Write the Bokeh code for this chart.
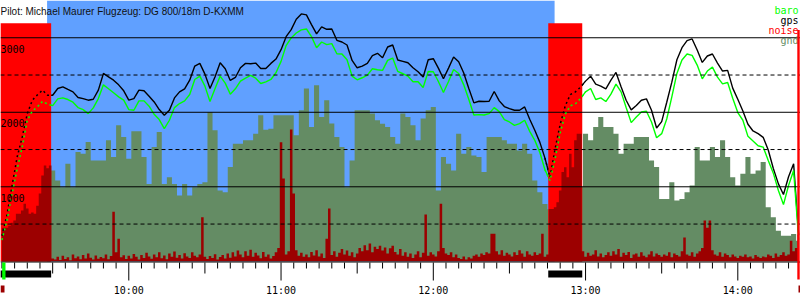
from bokeh.plotting import figure
from bokeh.models import Range1d
from bokeh.core.properties import value
from bokeh.embed import file_html
from bokeh.resources import INLINE

title_text = "Pilot: Michael Maurer Flugzeug: DG 800/18m D-KXMM"

# fix samples every 2 minutes starting 9:10 (minutes since midnight)
t_first = 550
gps = [343, 626, 1017, 1399, 1668, 1982, 2162, 2234, 2297, 2229,
       2229, 2319, 2342, 2306, 2274, 2198, 2184, 2162, 2175, 2297,
       2521, 2476, 2431, 2368, 2288, 2162, 2184, 2297, 2288, 2216,
       2139, 2036, 1960, 2027, 2193, 2274, 2315, 2431, 2620, 2656,
       2512, 2319, 2476, 2665, 2584, 2427, 2467, 2597, 2656, 2651,
       2660, 2588, 2588, 2656, 2714, 2840, 3015, 3109, 3249, 3320,
       3307, 3177, 3051, 3145, 3114, 3118, 2966, 2943, 2903, 2696,
       2597, 2620, 2656, 2759, 2791, 2732, 2876, 2903, 2701, 2683,
       2665, 2597, 2544, 2472, 2705, 2719, 2593, 2449, 2593, 2741,
       2678, 2526, 2319, 2126, 2148, 2144, 2148, 2279, 2153, 2077,
       2050, 2027, 2027, 2072, 1906, 1758, 1596, 1385, 1129, 1511,
       1839, 2086, 2238, 2274, 2337, 2418, 2485, 2377, 2351, 2315,
       2431, 2535, 2342, 2162, 2032, 2090, 2162, 2180, 2027, 1789,
       1875, 2135, 2404, 2705, 2867, 2961, 2984, 2835, 2669, 2755,
       2782, 2660, 2553, 2562, 2324, 2175, 2018, 1839, 1749, 1713,
       1664, 1493, 1246, 1039, 896, 1134, 1309, 350]

baro = [285, 546, 905, 1241, 1533, 1893, 2018, 2072, 2148, 2108,
        2090, 2180, 2193, 2171, 2135, 2063, 2036, 1982, 2059, 2184,
        2368, 2315, 2261, 2207, 2162, 2036, 2027, 2153, 2153, 2081,
        1973, 1902, 1780, 1893, 2063, 2117, 2153, 2238, 2440, 2485,
        2351, 2144, 2319, 2485, 2391, 2243, 2315, 2418, 2458, 2494,
        2458, 2386, 2409, 2440, 2530, 2683, 2894, 2997, 3064, 3105,
        3118, 3015, 2867, 2943, 2907, 2921, 2786, 2782, 2705, 2485,
        2436, 2463, 2499, 2584, 2571, 2562, 2696, 2728, 2548, 2517,
        2485, 2409, 2409, 2333, 2548, 2544, 2413, 2265, 2413, 2575,
        2521, 2368, 2171, 1964, 1969, 1964, 1982, 2063, 2009, 1902,
        1870, 1825, 1848, 1893, 1744, 1623, 1461, 1228, 1084, 1376,
        1722, 1973, 2086, 2113, 2184, 2274, 2319, 2171, 2193, 2144,
        2243, 2377, 2274, 2063, 1861, 1937, 2005, 2014, 1870, 1659,
        1713, 1910, 2207, 2521, 2701, 2782, 2764, 2633, 2449, 2553,
        2606, 2472, 2382, 2400, 2189, 1996, 1893, 1677, 1614, 1551,
        1533, 1354, 1183, 950, 761, 1017, 1219, 290]

gnd = [290, 300, 420, 560, 700, 820, 900, 980, 1050, 1150,
       1219, 1084, 995, 1309, 995, 1466, 1444, 1601, 1354, 1354,
       1354, 1623, 1399, 1825, 1668, 1376, 1744, 1744, 1399, 1039,
       1533, 1735, 1039, 1129, 1039, 882, 1039, 882, 995, 1039,
       1062, 2005, 1758, 950, 927, 1264, 1578, 1578, 1623, 1623,
       1713, 1960, 1767, 1780, 1960, 1960, 1960, 1960, 1690, 2027,
       2319, 1803, 2364, 1937, 2162, 1848, 1668, 1533, 995, 1354,
       2027, 2027, 2027, 1982, 1893, 1845, 1803, 1668, 1578, 1982,
       1937, 1825, 1623, 1915, 2027, 2072, 950, 1399, 1309, 1219,
       1713, 1444, 1533, 1421, 1399, 1197, 1668, 1668, 1668, 1623,
       1578, 1578, 1488, 1578, 1444, 1084, 927, 770, 700, 650,
       700, 750, 800, 900, 1000, 1713, 1623, 1803, 1937, 1803,
       1803, 1713, 1444, 1578, 1578, 1668, 1668, 1668, 1354, 1264,
       837, 837, 1062, 815, 837, 927, 1017, 1533, 1354, 1354,
       1533, 1399, 1623, 1399, 1129, 1017, 1174, 1399, 1174, 1219,
       1331, 725, 590, 411, 343, 343, 366, 276]

times = [t_first + 2 * i for i in range(len(gps))]

# engine noise level, one value per minute from 9:10
noise = ([150, 150, 150, 159, 173, 182, 213, 213, 227, 258,
          236, 213, 218, 213, 249, 303, 384, 429, 416, 429]
         + [12, 8, 20, 6, 25, 10, 18, 5, 30, 14]
         + [22, 9, 28, 12, 35, 16, 8, 26, 11, 19]
         + [14, 30, 9, 24, 222, 40, 101, 18, 27, 10]
         + [25, 12, 33, 20, 8, 28, 15, 38, 22, 11]
         + [30, 18, 40, 14, 26, 9, 35, 20, 44, 16]
         + [28, 12, 36, 22, 15, 40, 25, 18, 30, 197]
         + [20, 10, 24, 15, 32, 8, 19, 28, 12, 35]
         + [16, 40, 22, 48, 30, 18, 45, 25, 52, 20]
         + [38, 26, 14, 42, 20, 30, 12, 24, 40, 60]
         + [533, 370, 30, 45, 590, 303, 50, 25, 38, 20]
         + [30, 18, 42, 26, 50, 22, 35, 15, 101, 236]
         + [28, 45, 20, 38, 55, 30, 48, 25, 40, 18]
         + [35, 60, 45, 72, 50, 80, 40, 65, 55, 70]
         + [48, 62, 35, 58, 70, 42, 30, 55, 25, 40]
         + [20, 35, 15, 30, 45, 18, 38, 209, 25, 40]
         + [30, 22, 45, 258, 60, 35, 28, 40, 18, 30]
         + [15, 10, 22, 8, 18, 12, 25, 30, 20, 35]
         + [28, 40, 35, 123, 123, 45, 30, 50, 25, 38]
         + [30, 22, 40, 28, 50, 35, 20, 45, 30, 25]
         + [40, 28, 35, 123, 20, 30]
         + [234, 234, 242, 264, 317, 399, 421, 376, 481, 421, 541, 571, 571]
         + [45, 20, 38, 25, 30, 50, 22, 35, 18, 28, 40]
         + [25, 45, 30, 55, 20, 38, 28, 42, 15, 30]
         + [35, 20, 40, 25, 18, 30, 45, 22, 35, 28]
         + [20, 30, 25, 40, 18, 35, 28, 22, 45, 107]
         + [30, 25, 40, 20, 35, 45, 60, 182, 150, 182]
         + [50, 30, 25, 40, 20, 35, 28, 18, 30, 22]
         + [15, 25, 20, 30, 18, 22, 12, 28, 20, 15]
         + [22, 18, 30, 25, 15, 35, 20, 28, 40, 25]
         + [30, 92, 45, 60, 120])
noise_times = [t_first + i for i in range(len(noise))]

engine_on = [549.4, 765.3]
engine_off = [569.4, 778.7]
task_start = 567.8
task_end = 767.8

grid_solid = [1000, 2000, 3000]
grid_dashed = [500, 1500, 2500]
alt_labels = ["1000", "2000", "3000"]
hour_ticks = [600, 660, 720, 780, 840]
hour_labels = ["10:00", "11:00", "12:00", "13:00", "14:00"]
legend_names = ["baro", "gps", "noise", "gnd"]

C_BLUE = "#60a0ff"
C_RED = "#ff0000"
C_NOISE = "#9c0000"
C_GND = "#648c64"
C_BARO = "#00ff00"
C_GPS = "#000000"
MONO = value("DejaVu Sans Mono")

X0, X1 = 549.44, 864.71
Y0, Y1 = -526, 3500

p = figure(width=800, height=300, x_range=Range1d(X0, X1), y_range=Range1d(Y0, Y1),
           output_backend="svg", toolbar_location=None, min_border=0,
           x_axis_location=None, y_axis_location=None, outline_line_color=None)
p.grid.visible = False
p.background_fill_color = "white"
p.border_fill_color = "white"
p.extra_y_ranges = {"px": Range1d(300, 0), "noise": Range1d(Y0 / 3, Y1 / 3)}
p.extra_x_ranges = {"px": Range1d(0, 800)}

# task window background
p.quad(left=[task_start], right=[task_end], top=[0], bottom=[261],
       y_range_name="px", fill_color=C_BLUE, line_color=None)
# ground elevation
p.varea_step(x=times, y1=[0] * len(gnd), y2=gnd, step_mode="center", fill_color=C_GND)
# altitude lines
p.line(times, gps, line_color=C_GPS, line_width=1.4)
p.line(times, baro, line_color=C_BARO, line_width=1.4)
# engine periods
p.quad(left=engine_on, right=engine_off, top=[22.7] * 2, bottom=[261] * 2,
       y_range_name="px", fill_color=C_RED, line_color=None)
# noise
p.varea_step(x=noise_times, y1=[0] * len(noise), y2=noise, step_mode="center",
             fill_color=C_NOISE, y_range_name="noise")
# horizontal reference lines
p.segment(x0=[X0] * 3, x1=[X1] * 3, y0=grid_solid, y1=grid_solid, line_color="black", line_width=1)
p.segment(x0=[X0] * 3, x1=[X1] * 3, y0=grid_dashed, y1=grid_dashed, line_color="black",
          line_width=1, line_dash="4 3")
# dotted altitude during engine runs
for on, off in zip(engine_on, engine_off):
    idx = [i for i, t in enumerate(times) if on - 2 <= t <= off + 2]
    p.line([times[i] for i in idx], [gps[i] for i in idx], line_color=C_GPS,
           line_width=1.5, line_dash="2 3")
    p.line([times[i] for i in idx], [baro[i] for i in idx], line_color=C_BARO,
           line_width=1.5, line_dash="2 3")

# time axis
p.segment(x0=[X0], x1=[X1], y0=[261.5], y1=[261.5], y_range_name="px", line_color="black")
tick_t = list(range(550, 865, 5))
tick_end = [280 if t % 60 == 0 else (273 if t % 30 == 0 else 268) for t in tick_t]
p.segment(x0=tick_t, x1=tick_t, y0=[262] * len(tick_t), y1=tick_end, y_range_name="px",
          line_color="black", line_width=1)
p.quad(left=engine_on, right=engine_off, top=[270] * 2, bottom=[277] * 2,
       y_range_name="px", fill_color="black", line_color=None)
p.text(x=hour_ticks, y=[290] * len(hour_ticks), text=hour_labels, y_range_name="px",
       text_align="center", text_baseline="alphabetic", text_font=MONO,
       text_font_size="10px", text_color="black")

# altitude labels
p.text(x=[X0] * 3, y=grid_solid, text=alt_labels, y_offset=11, text_align="left",
       text_baseline="alphabetic", text_font=MONO, text_font_size="10px", text_color="black")

# title
p.text(x=[0], y=[10.5], text=[title_text], x_range_name="px", y_range_name="px",
       text_align="left", text_baseline="alphabetic", text_font=value("Liberation Sans"),
       text_font_size="10px", text_color="#111111")

# legend
p.text(x=[798] * 4, y=[10, 20, 30, 40], text=legend_names, x_range_name="px", y_range_name="px",
       text_align="right", text_baseline="alphabetic", text_font=MONO, text_font_size="10px",
       text_color=[C_BARO, C_GPS, C_RED, C_GND])

# start / end markers
p.quad(left=[1.7], right=[5], top=[262], bottom=[279], x_range_name="px", y_range_name="px",
       fill_color=C_BARO, line_color=None)
p.quad(left=[0, 798], right=[4, 799.5], top=[285, 285], bottom=[292, 292], x_range_name="px",
       y_range_name="px", fill_color=C_NOISE, line_color=None)
p.quad(left=[796.8], right=[799.2], top=[29.5], bottom=[279], x_range_name="px",
       y_range_name="px", fill_color=C_RED, line_color=None)

open("out.html", "w").write(file_html(p, INLINE))
